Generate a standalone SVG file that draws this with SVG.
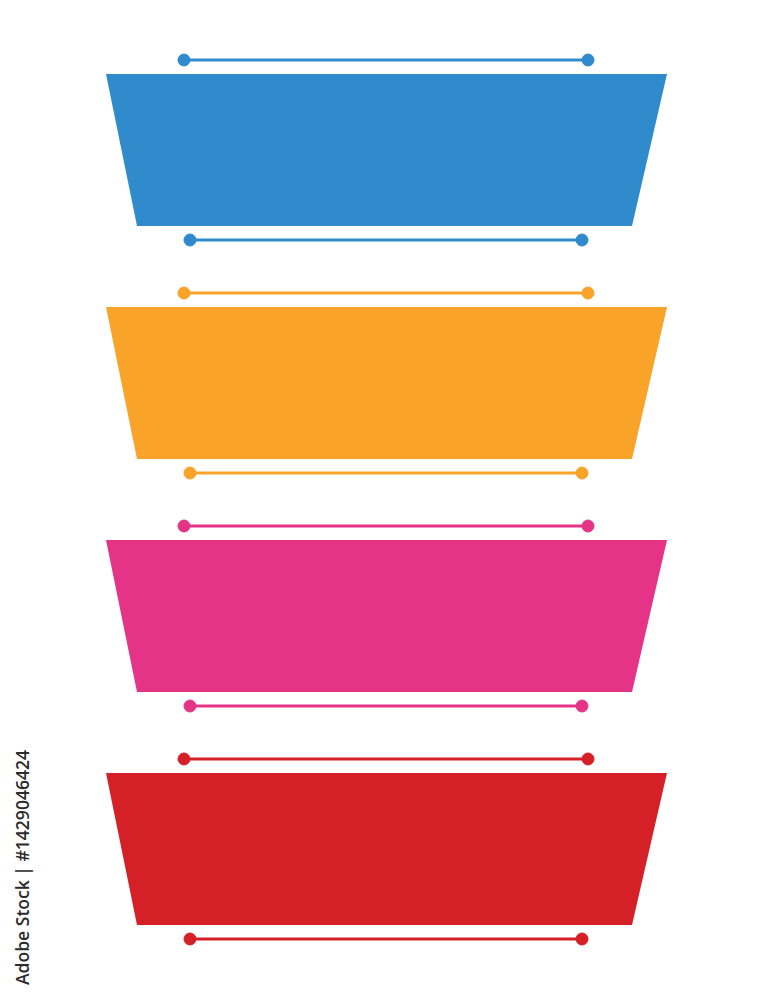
<svg xmlns="http://www.w3.org/2000/svg" width="773" height="1000" viewBox="0 0 773 1000">
<style>
.ln{stroke-width:3;fill:none}
.side{font-family:"Open Sans","Noto Sans",sans-serif;font-size:18px;font-weight:600;fill:#2b2b2b}
</style>
<defs>
<polygon id="trap" points="106,0 667,0 632,152 137,152"/>
</defs>
<rect width="773" height="1000" fill="#fff"/>
<g id="connectors">
<g stroke="#2F8BCB" fill="#2F8BCB">
<line class="ln" x1="184" y1="60" x2="588" y2="60"/><circle cx="184" cy="60" r="6"/><circle cx="588" cy="60" r="6"/>
<line class="ln" x1="190" y1="240" x2="582" y2="240"/><circle cx="190" cy="240" r="6"/><circle cx="582" cy="240" r="6"/>
</g>
<g stroke="#F9A329" fill="#F9A329">
<line class="ln" x1="184" y1="293" x2="588" y2="293"/><circle cx="184" cy="293" r="6"/><circle cx="588" cy="293" r="6"/>
<line class="ln" x1="190" y1="473" x2="582" y2="473"/><circle cx="190" cy="473" r="6"/><circle cx="582" cy="473" r="6"/>
</g>
<g stroke="#E53487" fill="#E53487">
<line class="ln" x1="184" y1="526" x2="588" y2="526"/><circle cx="184" cy="526" r="6"/><circle cx="588" cy="526" r="6"/>
<line class="ln" x1="190" y1="706" x2="582" y2="706"/><circle cx="190" cy="706" r="6"/><circle cx="582" cy="706" r="6"/>
</g>
<g stroke="#D62027" fill="#D62027">
<line class="ln" x1="184" y1="759" x2="588" y2="759"/><circle cx="184" cy="759" r="6"/><circle cx="588" cy="759" r="6"/>
<line class="ln" x1="190" y1="939" x2="582" y2="939"/><circle cx="190" cy="939" r="6"/><circle cx="582" cy="939" r="6"/>
</g>
</g>
<g id="band1"><use href="#trap" y="74" fill="#2F8BCB"/></g>
<g id="band2"><use href="#trap" y="307" fill="#F9A329"/></g>
<g id="band3"><use href="#trap" y="540" fill="#E53487"/></g>
<g id="band4"><use href="#trap" y="773" fill="#D62027"/></g>
<text class="side" transform="translate(29,985) rotate(-90)" textLength="235" lengthAdjust="spacingAndGlyphs">Adobe Stock | #1429046424</text>
</svg>
